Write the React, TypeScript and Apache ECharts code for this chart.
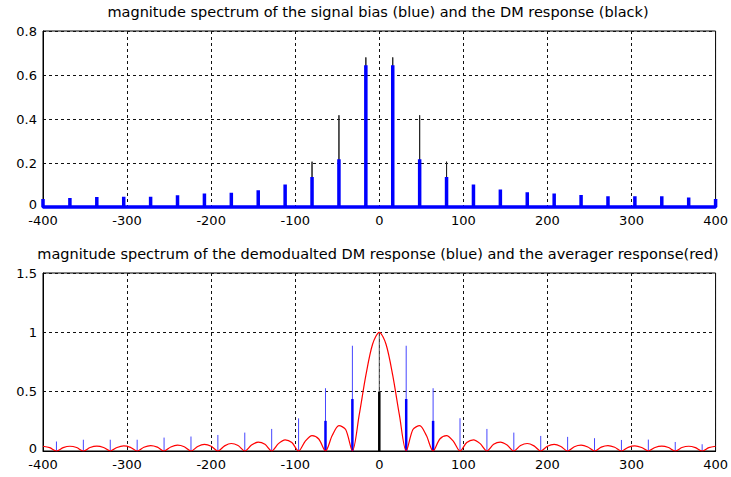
import React, { useEffect, useRef } from "react";
import * as echarts from "echarts";

// ---------- Top panel: signal bias (blue) and DM response (black) ----------
const topFreq = [
  -400, -368, -336, -304, -272, -240, -208, -176, -144, -112, -80, -48, -16,
  16, 48, 80, 112, 144, 176, 208, 240, 272, 304, 336, 368, 400,
];
const topBias = [
  0.036, 0.041, 0.046, 0.047, 0.047, 0.053, 0.061, 0.065, 0.076, 0.102, 0.136, 0.217, 0.644,
  0.644, 0.217, 0.136, 0.102, 0.079, 0.067, 0.061, 0.055, 0.049, 0.049, 0.049, 0.043, 0.036,
];
const topDM = [
  0, 0, 0, 0, 0, 0, 0, 0, 0, 0.06, 0.206, 0.417, 0.68,
  0.68, 0.417, 0.206, 0.06, 0, 0, 0, 0, 0, 0, 0, 0, 0,
];
const topYTicks = { min: 0, max: 0.8, interval: 0.2 };

// ---------- Bottom panel: demodulated DM response (blue) and averager (red) ----------
const botFreq = [
  -384, -352, -320, -288, -256, -224, -192, -160, -128, -96, -64, -32,
  32, 64, 96, 128, 160, 192, 224, 256, 288, 320, 352, 384,
];
const botDemod = [
  0.08, 0.095, 0.095, 0.095, 0.113, 0.122, 0.135, 0.155, 0.186, 0.275, 0.529, 0.887,
  0.887, 0.529, 0.276, 0.186, 0.155, 0.127, 0.119, 0.108, 0.093, 0.096, 0.076, 0.057,
];
const botInnerFreq = [-64, -32, 32, 64];
const botInner = [0.254, 0.438, 0.438, 0.254];
const dcFreq = [0];
const dcOuter = [1.0];
const dcInner = [0.5];

// averager response, read every 8 Hz from -400 to 400
const avgFreq: number[] = [];
for (let f = -400; f <= 400; f += 8) avgFreq.push(f);
const avgResp = [
  0.040, 0.028, 0, 0.028, 0.040, 0.029, 0, 0.029, 0.041, 0.030, 0, 0.030, 0.043,
  0.031, 0, 0.032, 0.046, 0.033, 0, 0.034, 0.049, 0.036, 0, 0.038, 0.055, 0.040,
  0, 0.043, 0.063, 0.046, 0, 0.050, 0.075, 0.056, 0, 0.062, 0.094, 0.071, 0,
  0.083, 0.129, 0.101, 0, 0.130, 0.213, 0.181, 0, 0.300, 0.637, 0.900,
  1.000,
  0.900, 0.637, 0.300, 0, 0.181, 0.213, 0.130, 0, 0.101, 0.129, 0.083, 0, 0.071,
  0.094, 0.062, 0, 0.056, 0.075, 0.050, 0, 0.046, 0.063, 0.043, 0, 0.040, 0.055,
  0.038, 0, 0.036, 0.049, 0.034, 0, 0.033, 0.046, 0.032, 0, 0.031, 0.043, 0.030,
  0, 0.030, 0.041, 0.029, 0, 0.029, 0.040, 0.028, 0, 0.028, 0.040,
];
const botYTicks = { min: 0, max: 1.5, interval: 0.5 };
const xTicks = { min: -400, max: 400, interval: 100 };

const titles = [
  "magnitude spectrum of the signal bias (blue) and the DM response (black)",
  "magnitude spectrum of the demodualted DM response (blue) and the averager response(red)",
];

const FONT = "DejaVu Sans";

function spikeLine(freq: number[], vals: number[]) {
  const out: number[][] = [];
  freq.forEach((f, i) => {
    out.push([f, 0], [f, vals[i]], [f, 0]);
  });
  return out;
}

function stemSeries(freq: number[], vals: number[], color: string, width: number, xIdx: number, z: number) {
  return {
    type: "custom",
    xAxisIndex: xIdx,
    yAxisIndex: xIdx,
    z,
    clip: false,
    data: freq.map((f, i) => [f, vals[i]]),
    encode: { x: 0, y: 1 },
    renderItem: (_p: any, api: any) => {
      const x = api.value(0);
      const y = api.value(1);
      const p0 = api.coord([x, 0]);
      const p1 = api.coord([x, y]);
      return {
        type: "line",
        shape: { x1: p0[0], y1: p0[1], x2: p1[0], y2: p1[1] },
        style: { stroke: color, lineWidth: width, fill: null },
      };
    },
  };
}

const axisLabel = { color: "#000", fontFamily: FONT, fontSize: 13, lineHeight: 11 };
const yAxisLabel = {
  ...axisLabel,
  margin: 6,
  formatter: (v: number) => (v === 0 ? "{z|0}" : String(v)),
  rich: { z: { fontFamily: FONT, fontSize: 13, lineHeight: 11, color: "#000", padding: [0, 0, 5, 0] } },
};
const splitLine = { show: true, lineStyle: { color: "#111", type: [3, 3] as any, width: 1 } };
const titleStyle = { fontFamily: FONT, fontSize: 14.5, fontWeight: "normal", color: "#000", lineHeight: 16 };

export default function App() {
  const ref = useRef<HTMLDivElement>(null);
  useEffect(() => {
    if (!ref.current) return;
    const chart = echarts.init(ref.current, undefined, { renderer: "svg" });
    chart.setOption({
      animation: false,
      backgroundColor: "#fff",
      title: [
        { text: titles[0], left: 378, top: 4, textAlign: "center", padding: 0, textStyle: titleStyle },
        { text: titles[1], left: 378, top: 246, textAlign: "center", padding: 0, textStyle: titleStyle },
      ],
      grid: [
        { left: 43, right: 13, top: 31, height: 176, show: true, borderColor: "#000", borderWidth: 1, backgroundColor: "transparent" },
        { left: 43, right: 13, top: 273, height: 178, show: true, borderColor: "#000", borderWidth: 1, backgroundColor: "transparent" },
      ],
      xAxis: [0, 1].map((g) => ({
        type: "value",
        gridIndex: g,
        ...xTicks,
        axisLine: { show: true, onZero: false, lineStyle: { color: "#000" } },
        axisTick: { show: false },
        axisLabel: { ...axisLabel, margin: 8 },
        splitLine,
      })),
      yAxis: [
        {
          type: "value",
          gridIndex: 0,
          ...topYTicks,
          axisLine: { show: true, onZero: false, lineStyle: { color: "#000" } },
          axisTick: { show: false },
          axisLabel: yAxisLabel,
          splitLine,
        },
        {
          type: "value",
          gridIndex: 1,
          ...botYTicks,
          axisLine: { show: true, onZero: false, lineStyle: { color: "#000" } },
          axisTick: { show: false },
          axisLabel: yAxisLabel,
          splitLine,
        },
      ],
      series: [
        {
          type: "line",
          xAxisIndex: 0,
          yAxisIndex: 0,
          z: 2,
          clip: false,
          symbol: "none",
          data: spikeLine(topFreq, topDM),
          lineStyle: { color: "#222", width: 1 },
        },
        {
          type: "line",
          xAxisIndex: 0,
          yAxisIndex: 0,
          z: 3,
          clip: false,
          symbol: "none",
          data: spikeLine(topFreq, topBias),
          lineStyle: { color: "#0000ff", width: 3.5 },
        },
        stemSeries(botFreq, botDemod, "#4646ff", 1, 1, 2),
        stemSeries(botInnerFreq, botInner, "#0000ff", 2.5, 1, 3),
        stemSeries(dcFreq, dcOuter, "#555", 1, 1, 3),
        stemSeries(dcFreq, dcInner, "#000", 2.5, 1, 4),
        {
          type: "line",
          xAxisIndex: 1,
          yAxisIndex: 1,
          z: 5,
          symbol: "none",
          smooth: 0.3,
          data: avgFreq.map((f, i) => [f, avgResp[i]]),
          lineStyle: { color: "#ff0000", width: 1.2 },
        },
      ],
    });
    return () => chart.dispose();
  }, []);
  return (
    <div
      ref={ref}
      style={{ position: "fixed", left: 0, top: 0, width: 731, height: 477, background: "#fff" }}
    />
  );
}
